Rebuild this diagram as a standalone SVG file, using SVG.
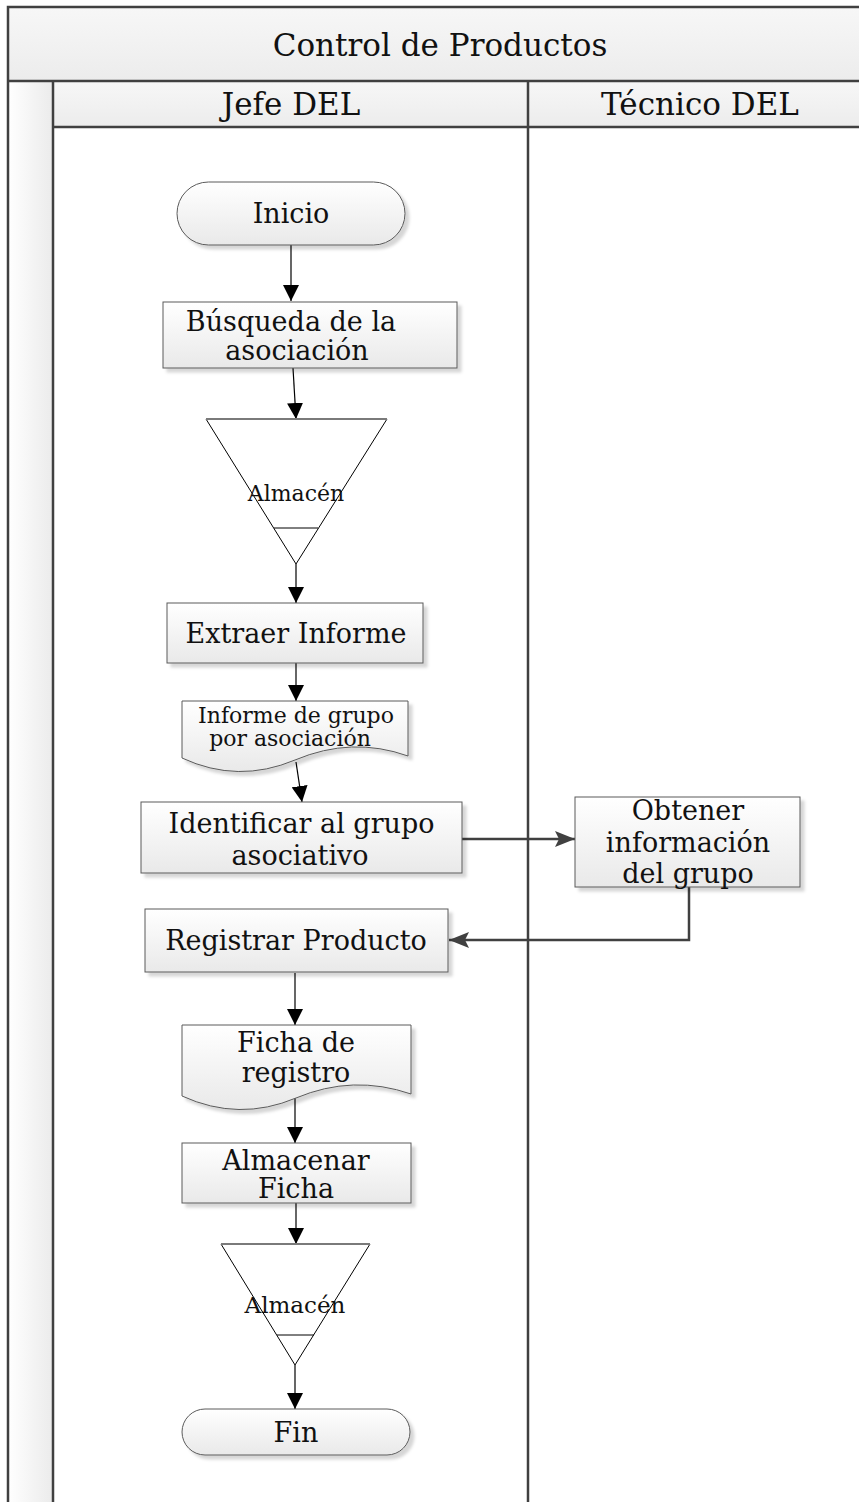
<svg xmlns="http://www.w3.org/2000/svg" width="859" height="1502" viewBox="0 0 859 1502">
  <defs>
    <linearGradient id="gBox" x1="0" y1="0" x2="0" y2="1">
      <stop offset="0" stop-color="#ffffff"/>
      <stop offset="1" stop-color="#e9e9e9"/>
    </linearGradient>
    <linearGradient id="gBand" x1="0" y1="0" x2="0" y2="1">
      <stop offset="0" stop-color="#f7f7f7"/>
      <stop offset="1" stop-color="#ececec"/>
    </linearGradient>
    <linearGradient id="gSide" x1="0" y1="0" x2="1" y2="0">
      <stop offset="0" stop-color="#ffffff"/>
      <stop offset="1" stop-color="#ebebeb"/>
    </linearGradient>
    <filter id="shadow" x="-10%" y="-10%" width="130%" height="140%">
      <feDropShadow dx="4" dy="4" stdDeviation="1.5" flood-color="#000" flood-opacity="0.16"/>
    </filter>
    <marker id="arrow" viewBox="0 0 16 16" refX="16" refY="8" markerWidth="16" markerHeight="16" markerUnits="userSpaceOnUse" orient="auto">
      <path d="M0,0 L16,8 L0,16 Z" fill="#000"/>
    </marker>
    <marker id="arrowGray" viewBox="0 0 20 16" refX="20" refY="8" markerWidth="20" markerHeight="16" markerUnits="userSpaceOnUse" orient="auto">
      <path d="M0,0 L20,8 L0,16 L4,8 Z" fill="#404040"/>
    </marker>
  </defs>
  <style>
    text { font-family: "DejaVu Serif", "Liberation Serif", serif; fill: #111; text-anchor: middle; }
    .head { font-size: 31px; }
    .lbl { font-size: 27px; }
    .small { font-size: 22px; }
    .frame { fill: none; stroke: #404040; stroke-width: 2.5; }
    .box { fill: url(#gBox); stroke: #5a5a5a; stroke-width: 1; filter: url(#shadow); }
    .store { fill: #fff; stroke: #000; stroke-width: 1; }
    .storeTop { stroke: #7a7a7a; stroke-width: 2; }
    .flow { fill: none; stroke: #000; stroke-width: 1.2; marker-end: url(#arrow); }
    .cross { fill: none; stroke: #404040; stroke-width: 2.5; marker-end: url(#arrowGray); }
  </style>

  <!-- pool and lanes -->
  <g id="pool">
    <rect x="8" y="7" width="870" height="74" fill="url(#gBand)"/>
    <rect x="53" y="81" width="825" height="46" fill="url(#gBand)"/>
    <rect x="8" y="81" width="45" height="1430" fill="url(#gSide)"/>
    <path class="frame" d="M8,1510 V7 H880 M8,81 H880 M53,127 H880 M53,81 V1510 M528,81 V1510"/>
    <text class="head" x="440" y="56">Control de Productos</text>
    <text class="head" x="291" y="115">Jefe DEL</text>
    <text class="head" x="700" y="115">Técnico DEL</text>
  </g>

  <!-- connectors -->
  <g id="connectors">
    <path class="flow" d="M291,245 V301"/>
    <path class="flow" d="M293,368 L296,419"/>
    <path class="flow" d="M296,564 V603"/>
    <path class="flow" d="M296,663 V701"/>
    <path class="flow" d="M296,762 L302,802"/>
    <path class="cross" d="M462,839 H575"/>
    <path class="cross" d="M689,887 V940 H449"/>
    <path class="flow" d="M295,973 V1025"/>
    <path class="flow" d="M295,1098 V1143"/>
    <path class="flow" d="M296,1203 V1244"/>
    <path class="flow" d="M295,1365 V1409"/>
  </g>

  <g id="inicio">
    <rect class="box" x="177" y="182" width="228" height="63" rx="31.5"/>
    <text class="lbl" x="291" y="222.5">Inicio</text>
  </g>

  <g id="busqueda">
    <rect class="box" x="163" y="302" width="294" height="66"/>
    <text class="lbl" x="291" y="331">Búsqueda de la</text>
    <text class="lbl" x="297" y="360">asociación</text>
  </g>

  <g id="almacen1">
    <polygon class="store" points="206,419 387,419 296,564"/>
    <line class="storeTop" x1="206" y1="419" x2="387" y2="419"/>
    <line class="store" x1="274" y1="528" x2="318" y2="528"/>
    <text class="small" x="296" y="501">Almacén</text>
  </g>

  <g id="extraer">
    <rect class="box" x="167" y="603" width="256" height="60"/>
    <text class="lbl" x="296" y="642.5">Extraer Informe</text>
  </g>

  <g id="informe">
    <path class="box" d="M182,701 H408 V756 Q352,736 295,760 Q238,784 182,758 Z"/>
    <text class="small" x="296" y="723">Informe de grupo</text>
    <text class="small" x="290" y="745.5">por asociación</text>
  </g>

  <g id="identificar">
    <rect class="box" x="141" y="802" width="321" height="71"/>
    <text class="lbl" x="301.5" y="832.5">Identificar al grupo</text>
    <text class="lbl" x="300" y="864.5">asociativo</text>
  </g>

  <g id="obtener">
    <rect class="box" x="575" y="797" width="225" height="90"/>
    <text class="lbl" x="688" y="819.5">Obtener</text>
    <text class="lbl" x="688" y="851.5">información</text>
    <text class="lbl" x="688" y="882.5">del grupo</text>
  </g>

  <g id="registrar">
    <rect class="box" x="145" y="909" width="303" height="63"/>
    <text class="lbl" x="296" y="950">Registrar Producto</text>
  </g>

  <g id="ficha">
    <path class="box" d="M182,1025 H411 V1094 Q353,1074 296,1098 Q239,1122 182,1096 Z"/>
    <text class="lbl" x="296" y="1051.5">Ficha de</text>
    <text class="lbl" x="296" y="1081.5">registro</text>
  </g>

  <g id="almacenar">
    <rect class="box" x="182" y="1143" width="229" height="60"/>
    <text class="lbl" x="296" y="1169.5">Almacenar</text>
    <text class="lbl" x="296" y="1197.5">Ficha</text>
  </g>

  <g id="almacen2">
    <polygon class="store" points="221,1244 370,1244 295,1365"/>
    <line class="storeTop" x1="221" y1="1244" x2="370" y2="1244"/>
    <line class="store" x1="277" y1="1335" x2="314" y2="1335"/>
    <text style="font-size:23px" x="295" y="1313">Almacén</text>
  </g>

  <g id="fin">
    <rect class="box" x="182" y="1409" width="228" height="46" rx="23"/>
    <text class="lbl" x="296" y="1441.5">Fin</text>
  </g>
</svg>
